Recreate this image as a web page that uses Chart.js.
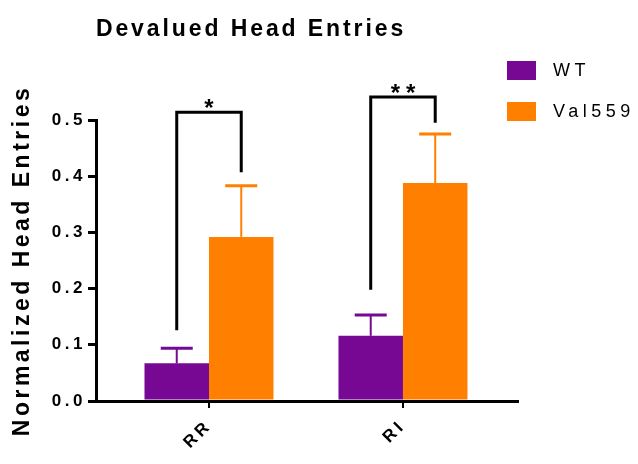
<!DOCTYPE html>
<html>
<head>
<meta charset="utf-8">
<script src="https://cdn.jsdelivr.net/npm/chart.js@4.4.1/dist/chart.umd.min.js"></script>
<style>
  html, body { margin: 0; padding: 0; background: #fff; }
  canvas { display: block; }
</style>
</head>
<body>
<canvas id="chart" width="638" height="464"></canvas>
<script>
const groups = ['RR', 'RI'];
const seriesNames = ['WT', 'Val559'];
const wtValues = [0.067, 0.116];
const wtErrors = [0.027, 0.037];
const valValues = [0.292, 0.388];
const valErrors = [0.091, 0.087];
const yTicks = [0, 0.1, 0.2, 0.3, 0.4, 0.5];
// significance brackets (left foot, right foot, top) in data units
const sigLeftFoot = [0.126, 0.198];
const sigRightFoot = [0.407, 0.495];
const sigTop = [0.514, 0.541];
const sigMarks = ['*', '**'];

const purple = '#770894';
const orange = '#ff8000';
const family = '"Liberation Sans", Arial, Helvetica, sans-serif';

// bars sit at x = 1, 2 on a linear axis so the gaps to the axis ends match
const toPoints = vals => vals.map((v, i) => ({x: i + 1, y: v}));

// letter spaced text like the original
const spacing = {
  id: 'spacing',
  beforeDraw(chart) {
    chart.ctx.letterSpacing = '3.5px';
  }
};

const errorBars = {
  id: 'errorBars',
  afterDatasetsDraw(chart) {
    const ctx = chart.ctx;
    const yScale = chart.scales.y;
    chart.data.datasets.forEach((ds, di) => {
      const meta = chart.getDatasetMeta(di);
      meta.data.forEach((bar, i) => {
        const top = yScale.getPixelForValue(ds.data[i].y + ds.errors[i]);
        ctx.save();
        ctx.strokeStyle = ds.backgroundColor;
        ctx.lineWidth = 2;
        ctx.beginPath();
        ctx.moveTo(bar.x, bar.y);
        ctx.lineTo(bar.x, top);
        ctx.stroke();
        ctx.lineWidth = 3;
        ctx.beginPath();
        ctx.moveTo(bar.x - 16, top);
        ctx.lineTo(bar.x + 16, top);
        ctx.stroke();
        ctx.restore();
      });
    });
  }
};

const brackets = {
  id: 'brackets',
  afterDatasetsDraw(chart) {
    const ctx = chart.ctx;
    const yScale = chart.scales.y;
    const left = chart.getDatasetMeta(0).data;
    const right = chart.getDatasetMeta(1).data;
    ctx.save();
    ctx.strokeStyle = '#000';
    ctx.lineWidth = 3;
    ctx.lineJoin = 'miter';
    for (let i = 0; i < groups.length; i++) {
      const x1 = left[i].x, x2 = right[i].x;
      const top = yScale.getPixelForValue(sigTop[i]);
      ctx.beginPath();
      ctx.moveTo(x1, yScale.getPixelForValue(sigLeftFoot[i]));
      ctx.lineTo(x1, top);
      ctx.lineTo(x2, top);
      ctx.lineTo(x2, yScale.getPixelForValue(sigRightFoot[i]));
      ctx.stroke();
      ctx.fillStyle = '#000';
      ctx.font = 'bold 24px ' + family;
      ctx.letterSpacing = '6px';
      ctx.textAlign = 'center';
      ctx.textBaseline = 'alphabetic';
      ctx.fillText(sigMarks[i], (x1 + x2) / 2 + 3, top + 4);
    }
    ctx.restore();
  }
};

const titleAndLegend = {
  id: 'titleAndLegend',
  afterDraw(chart) {
    const ctx = chart.ctx;
    ctx.save();
    ctx.fillStyle = '#000';
    ctx.font = 'bold 23px ' + family;
    ctx.letterSpacing = '2.9px';
    ctx.textAlign = 'center';
    ctx.textBaseline = 'alphabetic';
    ctx.fillText('Devalued Head Entries', 251, 36);

    ctx.font = '18px ' + family;
    ctx.letterSpacing = '4.5px';
    ctx.textAlign = 'left';
    ctx.textBaseline = 'middle';
    chart.data.datasets.forEach((ds, i) => {
      const y = 61 + i * 41;
      ctx.fillStyle = ds.backgroundColor;
      ctx.fillRect(507, y, 29, 19);
      ctx.fillStyle = '#000';
      ctx.fillText(ds.label, 553, y + 10);
    });
    ctx.restore();
  }
};

new Chart(document.getElementById('chart'), {
  type: 'bar',
  data: {
    datasets: [
      {label: seriesNames[0], data: toPoints(wtValues), errors: wtErrors, backgroundColor: purple},
      {label: seriesNames[1], data: toPoints(valValues), errors: valErrors, backgroundColor: orange},
    ]
  },
  options: {
    responsive: false,
    animation: false,
    layout: {padding: {top: 120, right: 120, left: 0, bottom: 0}},
    categoryPercentage: 0.665,
    barPercentage: 1,
    plugins: {
      legend: {display: false},
      title: {display: false},
      tooltip: {enabled: false},
    },
    scales: {
      x: {
        type: 'linear',
        offset: false,
        min: 0.4175,
        max: 2.593,
        afterBuildTicks: scale => {
          scale.ticks = groups.map((g, i) => ({value: i + 1}));
        },
        afterFit: scale => { scale.height = 63; },
        grid: {drawOnChartArea: false, offset: false, color: '#000', lineWidth: 2, tickLength: 7},
        border: {color: '#000', width: 3},
        ticks: {
          color: '#000',
          font: {family: family, size: 17, weight: 'bold'},
          minRotation: 45,
          maxRotation: 45,
          padding: 8,
          callback: v => groups[v - 1],
        },
      },
      y: {
        min: 0,
        max: 0.5,
        afterBuildTicks: scale => {
          scale.ticks = yTicks.map(v => ({value: v}));
        },
        afterFit: scale => { scale.width = 96; },
        grid: {drawOnChartArea: false, color: '#000', lineWidth: 3, tickLength: 8},
        border: {color: '#000', width: 3},
        ticks: {
          color: '#000',
          font: {family: family, size: 17, weight: 'bold'},
          padding: 2,
          callback: v => v.toFixed(1),
        },
        title: {
          display: true,
          text: 'Normalized Head Entries',
          color: '#000',
          font: {family: family, size: 23, weight: 'bold'},
          padding: {top: 9, bottom: 0},
        },
      },
    },
  },
  plugins: [spacing, errorBars, brackets, titleAndLegend],
});
</script>
</body>
</html>
